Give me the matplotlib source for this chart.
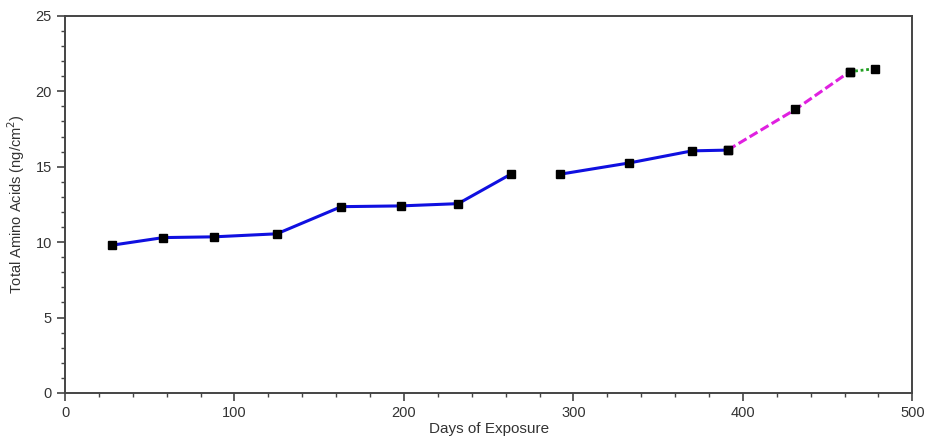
import matplotlib
matplotlib.use('Agg')
import matplotlib.pyplot as plt
from matplotlib.ticker import MultipleLocator

plt.rcParams['font.family'] = ['Liberation Sans', 'DejaVu Sans']

# Дані
days_a = [28, 58, 88, 125, 163, 198, 232, 263]
amino_a = [9.8, 10.3, 10.35, 10.55, 12.35, 12.4, 12.55, 14.5]
days_b = [292, 333, 370, 391]
amino_b = [14.5, 15.25, 16.05, 16.1]
days_c = [391, 431, 463]
amino_c = [16.1, 18.8, 21.3]
days_d = [463, 478]
amino_d = [21.3, 21.5]

fig = plt.figure(figsize=(9.25, 4.41), dpi=100)
ax = fig.add_axes([0.0703, 0.109, 0.916, 0.855])

mk = dict(marker='s', markersize=6, markerfacecolor='black', markeredgecolor='black')
ax.plot(days_a, amino_a, color='#1010e0', lw=2.2, **mk)
ax.plot(days_b, amino_b, color='#1010e0', lw=2.2, **mk)
ax.plot(days_c, amino_c, color='#e020e0', lw=2.2, ls=(0, (3, 1.2)), **mk)
ax.plot(days_d, amino_d, color='#22a022', lw=2.0, ls=(0, (1, 1)), **mk)

ax.set_xlim(0, 500)
ax.set_ylim(0, 25)
ax.xaxis.set_major_locator(MultipleLocator(100))
ax.xaxis.set_minor_locator(MultipleLocator(20))
ax.yaxis.set_major_locator(MultipleLocator(5))
ax.yaxis.set_minor_locator(MultipleLocator(1))

for s in ax.spines.values():
    s.set_color('#444444')
    s.set_linewidth(1.4)
ax.tick_params(which='both', direction='out', color='#444444', top=False, right=False)
ax.tick_params(which='major', length=6, width=1.2, labelsize=10.5, labelcolor='#333333')
ax.tick_params(which='minor', length=3, width=1.0)

ax.set_xlabel('Days of Exposure', fontsize=11, color='#333333', labelpad=1)
ax.set_ylabel('Total Amino Acids (ng/cm$^2$)', fontsize=10.5, color='#333333', labelpad=6)

fig.savefig('out.png', dpi=100)
